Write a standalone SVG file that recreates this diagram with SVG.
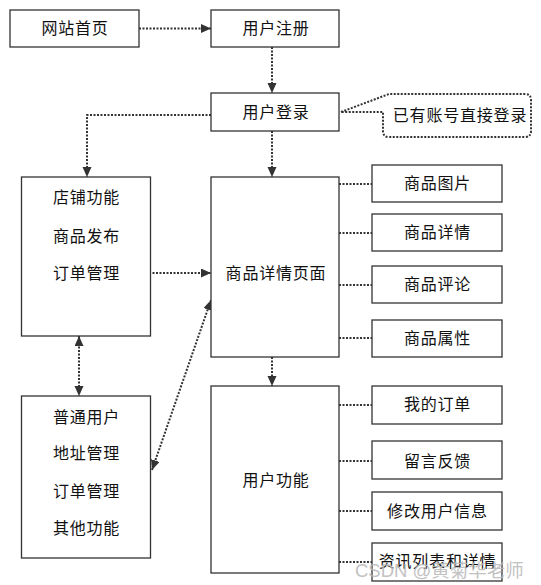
<svg xmlns="http://www.w3.org/2000/svg" width="541" height="585" viewBox="0 0 541 585">
<defs>
<marker id="arr" markerUnits="userSpaceOnUse" markerWidth="11" markerHeight="10" refX="10" refY="4.5" orient="auto-start-reverse">
<path d="M0,0 L10,4.5 L0,9 z" fill="#333"/>
</marker>
<style>
.box{fill:#fff;stroke:#333;stroke-width:1.3}
.t{font-family:"Noto Sans CJK SC","Noto Sans",sans-serif;font-size:16px;fill:#111;text-anchor:middle;letter-spacing:0.8px}
.c{fill:none;stroke:#333;stroke-width:2;stroke-dasharray:2 1.5}
.wm{font-family:"Liberation Sans","Noto Sans CJK SC",sans-serif;font-size:18.5px;fill:#b8b8b8;opacity:0.85}
</style>
</defs>
<rect width="541" height="585" fill="#fff"/>
<g id="connectors">
<line class="c" x1="139" y1="28.5" x2="211" y2="28.5" marker-end="url(#arr)"/>
<line class="c" x1="272" y1="47" x2="272" y2="93" marker-end="url(#arr)"/>
<line class="c" x1="272" y1="131" x2="272" y2="177" marker-end="url(#arr)"/>
<polyline class="c" points="211,115 87,115 87,177" marker-end="url(#arr)"/>
<line class="c" x1="128" y1="273" x2="211" y2="273" marker-end="url(#arr)"/>
<line class="c" x1="79" y1="336" x2="79" y2="396" marker-start="url(#arr)" marker-end="url(#arr)"/>
<line class="c" x1="152" y1="470" x2="211" y2="300" marker-start="url(#arr)" marker-end="url(#arr)"/>
<line class="c" x1="272" y1="357" x2="272" y2="386" marker-end="url(#arr)"/>
<line class="c" x1="339" y1="184" x2="372" y2="184"/>
<line class="c" x1="339" y1="233" x2="372" y2="233"/>
<line class="c" x1="339" y1="285" x2="372" y2="285"/>
<line class="c" x1="339" y1="338" x2="372" y2="338"/>
<line class="c" x1="339" y1="405" x2="372" y2="405"/>
<line class="c" x1="339" y1="461" x2="372" y2="461"/>
<line class="c" x1="339" y1="511" x2="372" y2="511"/>
<line class="c" x1="339" y1="562" x2="372" y2="562"/>
</g>
<g id="home"><rect class="box" x="10" y="10" width="129" height="37"/><text class="t" x="75" y="34">网站首页</text></g>
<g id="register"><rect class="box" x="211" y="10" width="128" height="37"/><text class="t" x="276" y="34">用户注册</text></g>
<g id="login"><rect class="box" x="211" y="93" width="128" height="38"/><text class="t" x="276" y="117.5">用户登录</text></g>
<g id="note">
<path class="c" d="M341,112 L389,94 L525,94 Q531,94 531,100 L531,131 Q531,137 525,137 L389,137 Q383,137 383,131 L383,112 Z"/>
<text class="t" x="460" y="120.5">已有账号直接登录</text>
</g>
<g id="shop"><rect class="box" x="21.5" y="177" width="129" height="159"/>
<text class="t" x="86.5" y="202.5">店铺功能</text>
<text class="t" x="86.5" y="241.5">商品发布</text>
<text class="t" x="86.5" y="278.5">订单管理</text>
</g>
<g id="detail"><rect class="box" x="211" y="177" width="128" height="180"/><text class="t" x="276" y="278.5">商品详情页面</text></g>
<g id="pic"><rect class="box" x="372" y="165" width="130" height="37"/><text class="t" x="437.5" y="189">商品图片</text></g>
<g id="info"><rect class="box" x="372" y="214" width="130" height="37"/><text class="t" x="437.5" y="238">商品详情</text></g>
<g id="review"><rect class="box" x="372" y="266" width="130" height="37"/><text class="t" x="437.5" y="290">商品评论</text></g>
<g id="attr"><rect class="box" x="372" y="320" width="130" height="37"/><text class="t" x="437.5" y="344">商品属性</text></g>
<g id="user"><rect class="box" x="21.5" y="396" width="129" height="162"/>
<text class="t" x="86.5" y="422.5">普通用户</text>
<text class="t" x="86.5" y="458.5">地址管理</text>
<text class="t" x="86.5" y="496.5">订单管理</text>
<text class="t" x="86.5" y="533.5">其他功能</text>
</g>
<g id="userfunc"><rect class="box" x="211" y="386" width="128" height="187"/><text class="t" x="276" y="485.5">用户功能</text></g>
<g id="orders"><rect class="box" x="372" y="386" width="130" height="38"/><text class="t" x="437.5" y="410">我的订单</text></g>
<g id="feedback"><rect class="box" x="372" y="441" width="130" height="38"/><text class="t" x="437.5" y="466.5">留言反馈</text></g>
<g id="edit"><rect class="box" x="372" y="492" width="130" height="38"/><text class="t" x="437.5" y="516.5">修改用户信息</text></g>
<g id="news"><rect class="box" x="372" y="543" width="130" height="38"/><text class="t" x="437.5" y="566.5">资讯列表和详情</text></g>
<text class="wm" x="355" y="577">CSDN @黄菊华老师</text>
</svg>
